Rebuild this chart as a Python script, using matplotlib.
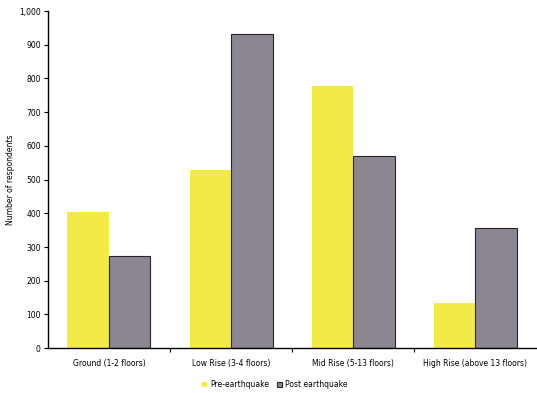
import matplotlib.pyplot as plt
import numpy as np

# Categorias de edifícios e respostas
categorias = ['Ground (1-2 floors)', 'Low Rise (3-4 floors)', 'Mid Rise (5-13 floors)', 'High Rise (above 13 floors)']
pre_sismo = [405, 528, 778, 133]
pos_sismo = [273, 932, 570, 356]

x = np.arange(len(categorias))
w = 0.34

fig = plt.figure(figsize=(5.37, 3.93), dpi=100)
ax = fig.add_axes([0.089, 0.114, 0.91, 0.858])

ax.bar(x - w/2, pre_sismo, w, color='#f4ea45', label='Pre-earthquake')
ax.bar(x + w/2, pos_sismo, w, color='#8c8592', edgecolor='#2a2230', linewidth=0.8, label='Post earthquake')

ax.set_xlim(-0.5, 3.5)
ax.set_ylim(0, 1000)
ax.set_yticks(range(0, 1001, 100))
ax.set_yticklabels(['{:,}'.format(v) for v in range(0, 1001, 100)], fontsize=5.5)
ax.set_xticks(x)
ax.set_xticklabels(categorias, fontsize=5.5)
ax.tick_params(axis='x', length=0, pad=8)
ax.tick_params(axis='y', length=3, width=0.8, pad=2)
ax.set_xticks([0.5, 1.5, 2.5], minor=True)
ax.tick_params(axis='x', which='minor', length=3, width=0.8)
ax.set_ylabel('Number of respondents', fontsize=5.5, labelpad=3)

for s in ['top', 'right']:
    ax.spines[s].set_visible(False)
ax.spines['left'].set_linewidth(1.0)
ax.spines['bottom'].set_linewidth(1.0)

ax.legend(loc='upper center', bbox_to_anchor=(0.465, -0.075), ncol=2, frameon=False,
          fontsize=5.5, handlelength=0.7, handleheight=0.7, columnspacing=1.0, handletextpad=0.4)

plt.savefig('out.png', dpi=100)
